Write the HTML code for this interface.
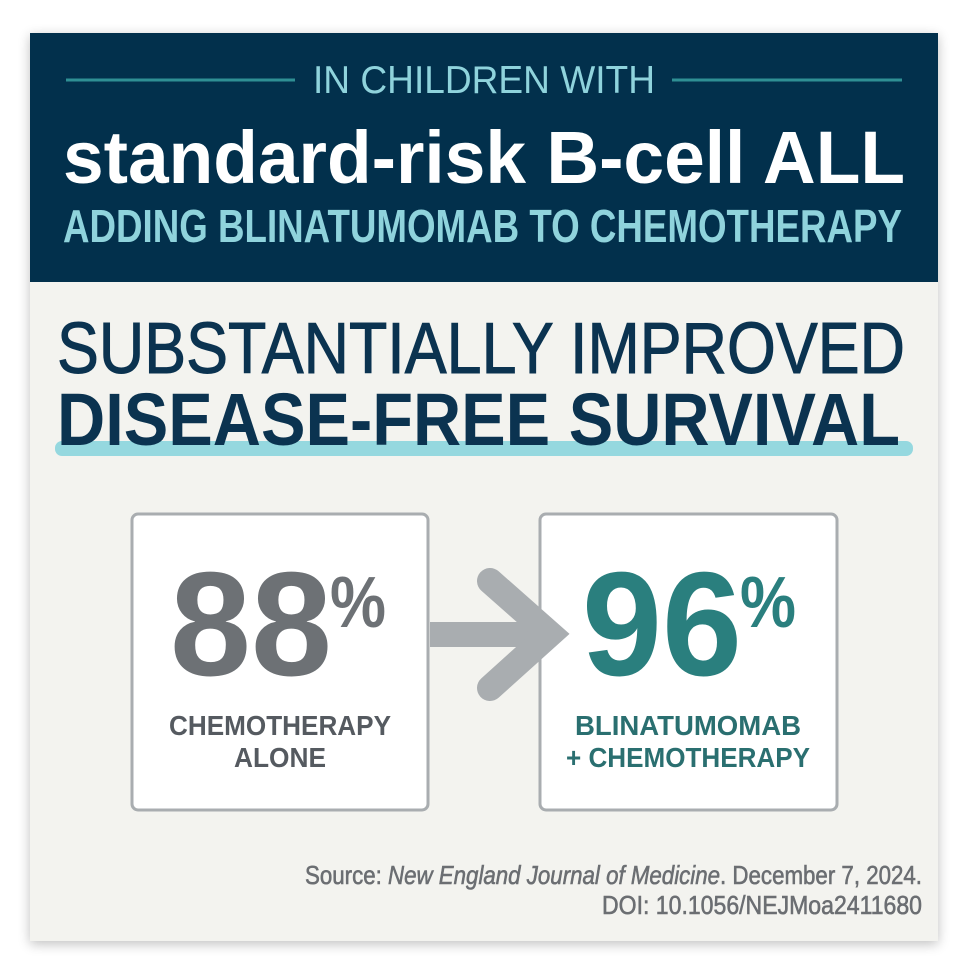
<!DOCTYPE html>
<html><head><meta charset="utf-8"><style>
html,body{margin:0;padding:0;background:#fff;}
svg{display:block;}
text{font-family:"Liberation Sans Narrow","Liberation Sans",sans-serif;}
</style></head><body>
<svg width="970" height="970" viewBox="0 0 970 970" xmlns="http://www.w3.org/2000/svg">
<defs>
<filter id="sh" x="-5%" y="-5%" width="110%" height="110%"><feGaussianBlur stdDeviation="6"/></filter>
</defs>
<rect x="30" y="36" width="908" height="908" fill="#000" opacity="0.25" filter="url(#sh)"/>
<rect x="30" y="33" width="908" height="908" fill="#f3f3ef"/>
<rect x="30" y="33" width="908" height="249" fill="#02304c"/>
<line x1="66" y1="80" x2="295" y2="80" stroke="#2f8f94" stroke-width="3"/>
<line x1="672" y1="80" x2="902" y2="80" stroke="#2f8f94" stroke-width="3"/>
<text x="313" y="93" font-size="39" fill="#8fd3dc" textLength="342" lengthAdjust="spacingAndGlyphs">IN CHILDREN WITH</text>
<text x="63" y="183" font-size="74" font-weight="bold" fill="#fff" textLength="842" lengthAdjust="spacingAndGlyphs">standard-risk B-cell ALL</text>
<text x="63" y="242" font-size="46" font-weight="bold" fill="#8fd3dc" textLength="839" lengthAdjust="spacingAndGlyphs">ADDING BLINATUMOMAB TO CHEMOTHERAPY</text>
<rect x="55" y="441" width="858" height="15" rx="7" fill="#95d8df"/>
<text x="57" y="373" font-size="72" fill="#0b3350" stroke="#0b3350" stroke-width="1" textLength="848" lengthAdjust="spacingAndGlyphs">SUBSTANTIALLY IMPROVED</text>
<text x="57" y="445" font-size="74" font-weight="bold" fill="#0b3350" textLength="843" lengthAdjust="spacingAndGlyphs">DISEASE-FREE SURVIVAL</text>
<rect x="132" y="514" width="296" height="296" rx="6" fill="#fff" stroke="#a9adb0" stroke-width="3"/>
<rect x="540" y="514" width="297" height="296" rx="6" fill="#fff" stroke="#a9adb0" stroke-width="3"/>
<rect x="430" y="622" width="110" height="25" fill="#a9adb0"/>
<polyline points="490,581 550,634 490,688" fill="none" stroke="#a9adb0" stroke-width="26" stroke-linejoin="miter" stroke-linecap="round"/>
<text x="170" y="675" font-size="148" font-weight="bold" fill="#6d7175" textLength="162" lengthAdjust="spacingAndGlyphs">88</text>
<text x="330" y="627" font-size="72" font-weight="bold" fill="#6d7175" textLength="56" lengthAdjust="spacingAndGlyphs">%</text>
<text x="280" y="735" font-size="28" font-weight="bold" fill="#555a60" text-anchor="middle" textLength="222" lengthAdjust="spacingAndGlyphs">CHEMOTHERAPY</text>
<text x="280" y="767" font-size="28" font-weight="bold" fill="#555a60" text-anchor="middle" textLength="92" lengthAdjust="spacingAndGlyphs">ALONE</text>
<text x="582" y="675" font-size="148" font-weight="bold" fill="#2a7f7e" textLength="160" lengthAdjust="spacingAndGlyphs">96</text>
<text x="740" y="627" font-size="72" font-weight="bold" fill="#2a7f7e" textLength="56" lengthAdjust="spacingAndGlyphs">%</text>
<text x="688" y="735" font-size="28" font-weight="bold" fill="#2a6f70" text-anchor="middle" textLength="226" lengthAdjust="spacingAndGlyphs">BLINATUMOMAB</text>
<text x="688" y="767" font-size="28" font-weight="bold" fill="#2a6f70" text-anchor="middle" textLength="244" lengthAdjust="spacingAndGlyphs">+ CHEMOTHERAPY</text>
<text x="922" y="884" font-size="26" fill="#6b6e72" stroke="#6b6e72" stroke-width="0.6" text-anchor="end" textLength="617" lengthAdjust="spacingAndGlyphs">Source: <tspan font-style="italic">New England Journal of Medicine</tspan>. December 7, 2024.</text>
<text x="922" y="914" font-size="26" fill="#6b6e72" stroke="#6b6e72" stroke-width="0.6" text-anchor="end" textLength="320" lengthAdjust="spacingAndGlyphs">DOI: 10.1056/NEJMoa2411680</text>
</svg>
</body></html>
